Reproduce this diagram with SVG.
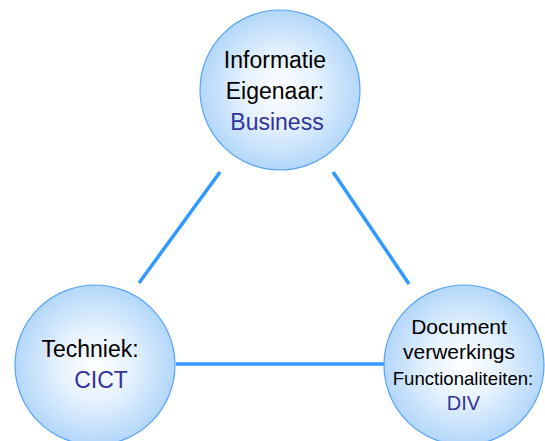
<svg xmlns="http://www.w3.org/2000/svg" width="545" height="441" viewBox="0 0 545 441">
<defs>
<radialGradient id="g" cx="50%" cy="50%" r="50%">
<stop offset="0" stop-color="#ffffff"/>
<stop offset="0.45" stop-color="#e6f2fd"/>
<stop offset="1" stop-color="#b3d7fa"/>
</radialGradient>
</defs>
<style>
.c{fill:url(#g);stroke:#55a3f5;stroke-width:1.2}
.l{stroke:#3399ff;stroke-width:3.5;fill:none}
text{font-family:"Liberation Sans",Arial,sans-serif;text-anchor:middle;fill:#000}
.b{fill:#333399}
</style>
<rect width="545" height="441" fill="#fff"/>
<g id="connectors">
<line class="l" x1="220" y1="172" x2="139" y2="283"/>
<line class="l" x1="333" y1="172" x2="409" y2="284"/>
<line class="l" x1="176" y1="364" x2="384" y2="364"/>
</g>
<g id="informatie">
<circle class="c" cx="280" cy="90" r="80"/>
<text x="275" y="68" font-size="23">Informatie</text>
<text x="275" y="99" font-size="23">Eigenaar:</text>
<text class="b" x="277" y="130" font-size="23">Business</text>
</g>
<g id="techniek">
<circle class="c" cx="95" cy="365" r="80"/>
<text x="90" y="357" font-size="23">Techniek:</text>
<text class="b" x="101" y="388" font-size="23">CICT</text>
</g>
<g id="document">
<circle class="c" cx="464" cy="365" r="80"/>
<text x="459" y="334" font-size="21">Document</text>
<text x="459" y="359" font-size="21">verwerkings</text>
<text x="463" y="385" font-size="18.6">Functionaliteiten:</text>
<text class="b" x="463.5" y="410" font-size="20">DIV</text>
</g>
</svg>
